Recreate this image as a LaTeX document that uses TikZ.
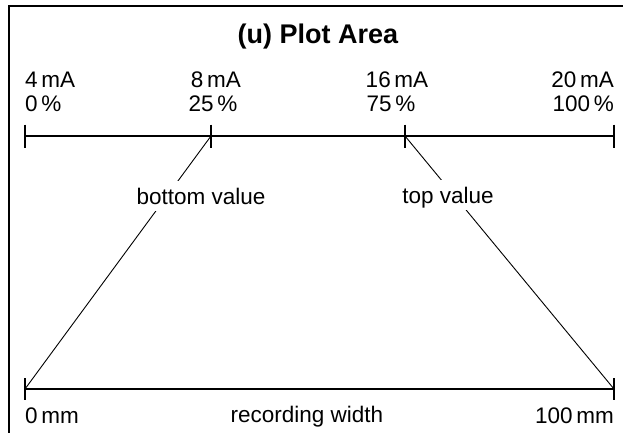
\documentclass[tikz,border=0pt]{standalone}
\usepackage{fontspec}
\setmainfont{Liberation Sans}
\begin{document}
\begin{tikzpicture}[x=1pt, y=-1pt,
    lbl/.style={font=\fontsize{22.5}{24}\selectfont, inner sep=0pt},
    ttl/.style={font=\fontsize{27}{30}\selectfont\bfseries, inner sep=0pt},
    axis/.style={line width=1.3pt},
    slant/.style={line width=0.9pt},
    tag/.style={lbl, fill=white, inner xsep=3pt, inner ysep=7pt, text height=16pt, text depth=0pt}]
    \useasboundingbox (0,0) rectangle (623,433);

    % Frame
    \draw[line width=1.3pt] (9,433) -- (9,6) -- (623,6);

    % Title
    \node[ttl, anchor=base] (title) at (318,44) {(u) Plot Area};

    % Input scale (mA / %)
    \foreach \x [count=\i] in {25,211,405,614} {
        \coordinate (t\i) at (\x,136);
        \draw[axis] (t\i) ++(0,-11.5) -- ++(0,23);
    }
    \draw[axis] (t1) -- (t4);

    \node[lbl, anchor=base west] (ma1) at (25,88) {4\,mA};
    \node[lbl, anchor=base west] (pc1) at (25,112) {0\,\%};
    \node[lbl, anchor=base] (ma2) at (216,88) {8\,mA};
    \node[lbl, anchor=base] (pc2) at (213,112) {25\,\%};
    \node[lbl, anchor=base] (ma3) at (397,88) {16\,mA};
    \node[lbl, anchor=base] (pc3) at (391,112) {75\,\%};
    \node[lbl, anchor=base east] (ma4) at (614,88) {20\,mA};
    \node[lbl, anchor=base east] (pc4) at (614,112) {100\,\%};

    % Recording scale (mm)
    \coordinate (b1) at (25,389);
    \coordinate (b2) at (614,389);
    \draw[axis] (b1) -- (b2);
    \foreach \c in {b1,b2}
        \draw[axis] (\c) ++(0,-11) -- ++(0,22);

    % Mapping lines
    \draw[slant] (t2) -- (b1);
    \draw[slant] (t3) -- (b2);
    \node[tag, anchor=base] (bottom) at (201,204) {bottom value};
    \node[tag, anchor=base] (top) at (448,203) {top value};

    \node[lbl, anchor=base west] (mm0) at (25,423) {0\,mm};
    \node[lbl, anchor=base] (width) at (307,422) {recording width};
    \node[lbl, anchor=base east] (mm100) at (614,423) {100\,mm};
\end{tikzpicture}
\end{document}
